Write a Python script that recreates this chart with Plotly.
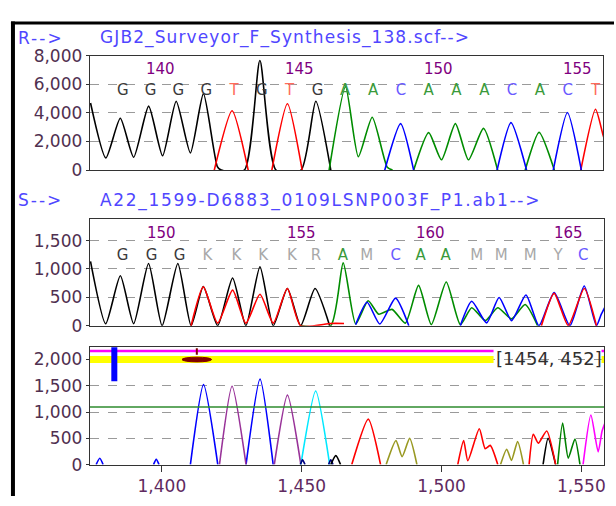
import plotly.graph_objects as go

# ---------------- DATA ----------------
# Panel 1: reference trace R  (x = base position, y = signal)
r_title_prefix = "R-->"
r_title = "GJB2_Surveyor_F_Synthesis_138.scf-->"
r_call_pos = [139, 140, 141, 142, 143, 144, 145, 146, 147, 148, 149, 150, 151, 152, 153, 154, 155, 156]
r_calls = list("GGGGTGTGAACAAACACT")
r_numbers = [140, 145, 150, 155]
r_black_x = [137.84, 138.39, 138.91, 139.39, 139.93, 140.43, 140.92, 141.43, 141.90, 142.40, 142.54, 143.37,
             143.93, 144.51, 145.41, 145.94, 146.48]
r_black_y = [4700, 850, 3630, 900, 4480, 1000, 4820, 1200, 5350, 250, 0, 0, 7670, 0, 0, 4820, 0]
r_red_x = [142.29, 142.93, 143.51, None, 144.36, 144.92, 145.45, None, 155.47, 156.0, 156.27, 156.5]
r_red_y = [0, 4150, 0, None, 0, 4640, 0, None, 0, 4260, 2460, 1000]
r_green_x = [146.42, 147.01, 147.47, 147.97, 148.51, 148.7, None, 149.46, 150.0, 150.46, 150.96, 151.43,
             151.97, 152.48, None, 153.47, 153.97, 154.52]
r_green_y = [0, 5830, 940, 3700, 200, 0, None, 0, 2620, 720, 3250, 720, 2920, 0, None, 0, 2640, 0]
r_blue_x = [148.42, 148.99, 149.46, None, 152.46, 152.96, 153.52, None, 154.48, 154.99, 155.49]
r_blue_y = [0, 3250, 0, None, 0, 3320, 0, None, 0, 4030, 0]

# Panel 2: sample trace S
s_title_prefix = "S-->"
s_title = "A22_1599-D6883_0109LSNP003F_P1.ab1-->"
s_call_pos = [148.93, 150.0, 151.03, 152.06, 153.13, 154.12, 155.18, 156.07, 157.06, 157.94, 159.01,
              159.93, 160.85, 161.99, 162.9, 163.97, 165.0, 165.92]
s_calls = list("GGGKKKKRAMCAAMMMYC")
s_numbers = [150, 155, 160, 165]
s_number_pos = [150.0, 155.18, 159.93, 165.0]
s_black_x = [147.75, 148.31, 148.85, 149.34, 149.89, 150.39, 150.97, 151.46, 151.91, 152.44, 152.99,
             153.48, 154.0, 154.49, 155.01, 155.5, 156.03, 156.57]
s_black_y = [1136, 35, 880, 35, 1097, 0, 1097, 0, 690, 0, 841, 0, 1040, 0, 656, 0, 655, 0]
s_red_x = [151.46, 151.91, 152.44, 152.99, 153.48, 154.0, 154.49, 155.01, 155.5, 156.61, 157.1, None,
           164.38, 164.85, 165.37, 165.96, 166.41]
s_red_y = [0, 685, 45, 627, 45, 554, 45, 656, 0, 40, 40, None, 0, 571, 0, 655, 0]
s_green_x = [155.5, 156.61, 157.07, 157.53, 157.99, 158.38, 158.87, 159.36, 159.85, 160.32, 160.87,
             161.39, 161.81, 162.31, 162.77, 163.28, 163.78, 164.24]
s_green_y = [0, 0, 1108, 30, 440, 203, 288, 45, 712, 20, 770, 20, 317, 90, 317, 120, 373, 0]
s_blue_x = [157.53, 157.95, 158.42, 159.0, 159.49, None, 161.39, 161.81, 162.36, 162.82, 163.28, 163.81,
            164.29, 164.85, 165.43, 165.96, 166.41, 166.59, 166.8]
s_blue_y = [20, 413, 30, 486, 0, None, 0, 430, 50, 498, 90, 542, 0, 583, 0, 701, 0, 203, 400]

# Panel 3: difference / mutation trace (x = scan point)
m_xticks = [1400, 1450, 1500, 1550]
m_yticks = [0, 500, 1000, 1500, 2000]
m_blue_x = [1376.5, 1377.8, 1379.0, None, 1397.0, 1398.0, 1399.0, None, 1410.2, 1414.9, 1420.0, None,
            1430.1, 1435.1, 1439.8]
m_blue_y = [0, 120, 0, None, 0, 100, 0, None, 0, 1523, 0, None, 0, 1627, 0]
m_purple_x = [1420.6, 1425.1, 1430.1, None, 1440.2, 1444.9, 1449.7]
m_purple_y = [0, 1492, 0, None, 0, 1322, 0]
m_cyan_x = [1449.7, 1455.0, 1460.0]
m_cyan_y = [0, 1400, 0]
m_navy_x = [1449.5, 1450.3, 1451.2, None, 1459.6, 1460.4, 1461.2]
m_navy_y = [0, 90, 0, None, 0, 90, 0]
m_black_x = [1460.4, 1462.2, 1463.9, None, 1536.3, 1538.1, 1540.8]
m_black_y = [0, 170, 0, None, 0, 499, 0]
m_red_x = [1467.9, 1473.8, 1478.2, None, 1505.8, 1507.9, 1509.4, 1513.5, 1515.6, 1517.4, 1520.1, None,
           1531.3, 1532.8, 1534.6, 1537.6, 1540.8]
m_red_y = [0, 865, 0, None, 0, 457, 73, 682, 303, 366, 0, None, 0, 578, 408, 640, 0]
m_olive_x = [1480.2, 1483.7, 1485.9, 1488.6, 1491.2, None, 1521.1, 1523.3, 1525.0, 1527.2, 1529.3]
m_olive_y = [0, 457, 152, 499, 0, None, 0, 293, 80, 439, 0]
m_green_x = [1541.5, 1543.3, 1545.3, 1547.7, 1549.5]
m_green_y = [0, 792, 122, 487, 0]
m_magenta_x = [1550.6, 1553.4, 1556.0, 1557.4, 1558.5]
m_magenta_y = [0, 944, 243, 640, 800]
m_threshold = 1097
m_pink_level = 2163
m_yellow_level = 2000
m_band_start, m_band_end = 1374.2, 1518.6
m_band_tail = [1557.2, 1558.1]
m_marker_pos = 1383.0
m_marker_low = 1585
m_cursor_pos = 1412.5
m_cursor_half = 5.3
m_cursor_label = "[1454, 452]"

# ---------------- STYLE ----------------
FONT = "DejaVu Sans"
W, H = 616, 506
call_colors = {"G": "#3a3a3a", "A": "#3a9a3a", "C": "#6a5aff", "T": "#ff6a5a"}
amb_color = "#a8a8a8"


def py(p):
    return 1 - p / H


fig = go.Figure()

LW = 1.6


def add_line(x, y, color, xa, ya, width=LW, shape="spline"):
    fig.add_trace(go.Scatter(x=x, y=y, mode="lines", xaxis=xa, yaxis=ya,
                             line=dict(color=color, width=width, shape=shape, smoothing=0.6),
                             hoverinfo="skip", showlegend=False, connectgaps=False))


# Panel 1
add_line(r_black_x, r_black_y, "#000000", "x", "y")
add_line(r_red_x, r_red_y, "#ff0000", "x", "y")
add_line(r_green_x, r_green_y, "#008c00", "x", "y")
add_line(r_blue_x, r_blue_y, "#0000ff", "x", "y")
fig.add_trace(go.Scatter(x=r_call_pos, y=[5500] * len(r_calls), mode="text", text=r_calls,
                         textfont=dict(family=FONT, size=15,
                                       color=[call_colors.get(c, amb_color) for c in r_calls]),
                         xaxis="x", yaxis="y", hoverinfo="skip", showlegend=False))

# Panel 2
add_line(s_black_x, s_black_y, "#000000", "x2", "y2")
add_line(s_green_x, s_green_y, "#008c00", "x2", "y2")
add_line(s_blue_x, s_blue_y, "#0000ff", "x2", "y2")
add_line(s_red_x, s_red_y, "#ff0000", "x2", "y2")
fig.add_trace(go.Scatter(x=s_call_pos, y=[1232] * len(s_calls), mode="text", text=s_calls,
                         textfont=dict(family=FONT, size=15,
                                       color=[call_colors.get(c, amb_color) for c in s_calls]),
                         xaxis="x2", yaxis="y2", hoverinfo="skip", showlegend=False))

# Panel 3
add_line(m_blue_x, m_blue_y, "#0000ff", "x3", "y3")
add_line(m_purple_x, m_purple_y, "#993399", "x3", "y3")
add_line(m_cyan_x, m_cyan_y, "#00e8ff", "x3", "y3")
add_line(m_navy_x, m_navy_y, "#000080", "x3", "y3")
add_line(m_black_x, m_black_y, "#000000", "x3", "y3")
add_line(m_red_x, m_red_y, "#ff0000", "x3", "y3")
add_line(m_olive_x, m_olive_y, "#999922", "x3", "y3")
add_line(m_green_x, m_green_y, "#008000", "x3", "y3")
add_line(m_magenta_x, m_magenta_y, "#ff00ff", "x3", "y3")
# threshold line
add_line([m_band_start, m_band_tail[1]], [m_threshold, m_threshold], "#2e8b2e", "x3", "y3", 1.5, "linear")
# yellow band and pink line
add_line([m_band_start, m_band_end, None] + m_band_tail,
         [m_yellow_level, m_yellow_level, None, m_yellow_level, m_yellow_level], "#ffff00", "x3", "y3", 7, "linear")
add_line([m_band_start, m_band_end, None] + m_band_tail,
         [m_pink_level, m_pink_level, None, m_pink_level, m_pink_level], "#ff00ff", "x3", "y3", 2.5, "linear")
# blue marker bar
add_line([m_marker_pos, m_marker_pos], [m_marker_low, 2300], "#0000ff", "x3", "y3", 6, "linear")
# dark red cursor
fig.add_shape(type="circle", xref="x3", yref="y3", x0=m_cursor_pos - m_cursor_half,
              x1=m_cursor_pos + m_cursor_half, y0=m_yellow_level - 45, y1=m_yellow_level + 45,
              fillcolor="#800000", line=dict(color="#800000", width=1))
add_line([m_cursor_pos, m_cursor_pos], [m_yellow_level + 90, 2215], "#800000", "x3", "y3", 2, "linear")

# ---------------- AXES ----------------
x_dom = [90 / W, 606 / W]
ytick_font = dict(family=FONT, size=17, color="#503050")
common_y = dict(showgrid=True, gridcolor="#9a9a9a", griddash="dash", gridwidth=1, showline=True,
                mirror=True, linecolor="#333333", linewidth=1, ticks="outside", ticklen=3,
                tickcolor="#333333", tickfont=ytick_font, tickformat=",", zeroline=False)
common_x = dict(showgrid=False, showline=True, mirror=True, linecolor="#333333", linewidth=1,
                zeroline=False)

fig.update_layout(
    width=W, height=H, margin=dict(l=0, r=0, t=0, b=0),
    paper_bgcolor="white", plot_bgcolor="white", showlegend=False,
    xaxis=dict(domain=[90 / W, 605 / W], range=[137.81, 156.27], anchor="y",
               showticklabels=False, ticks="", **common_x),
    yaxis=dict(domain=[py(166.7), py(47.7)], range=[0, 8000], anchor="x",
               tickvals=[0, 2000, 4000, 6000, 8000], **common_y),
    xaxis2=dict(domain=x_dom, range=[147.72, 166.69], anchor="y2",
                showticklabels=False, ticks="", **common_x),
    yaxis2=dict(domain=[py(328.7), py(217.7)], range=[0, 1880], anchor="x2",
                tickvals=[0, 500, 1000, 1500], **common_y),
    xaxis3=dict(domain=x_dom, range=[1374.2, 1558.1], anchor="y3", tickvals=m_xticks,
                tickformat=",", ticks="outside", ticklen=6, tickcolor="#333333",
                tickfont=dict(family=FONT, size=17, color="#602a60"), **common_x),
    yaxis3=dict(domain=[py(473.3), py(351)], range=[0, 2236], anchor="x3",
                tickvals=m_yticks, **common_y),
)

# ---------------- TEXT ----------------
ann = []
title_font = dict(family=FONT, size=17, color="#5046ff")
for prefix, title, ycen, sp in [(r_title_prefix, r_title, 29, 1.1), (s_title_prefix, s_title, 198, 1.7)]:
    ann.append(dict(text='<span style="letter-spacing:2px">' + prefix + '</span>', x=16 / W, y=py(ycen),
                    xref="paper", yref="paper",
                    xanchor="left", yanchor="middle", showarrow=False, font=title_font))
    ann.append(dict(text='<span style="letter-spacing:%.1fpx">' % sp + title + '</span>', x=98 / W, y=py(ycen),
                    xref="paper", yref="paper",
                    xanchor="left", yanchor="middle", showarrow=False, font=title_font))
num_font = dict(family=FONT, size=15, color="#800080")
for n in r_numbers:
    ann.append(dict(text=str(n), x=n, y=7050, xref="x", yref="y", xshift=10,
                    xanchor="center", yanchor="middle", showarrow=False, font=num_font))
for n, p in zip(s_numbers, s_number_pos):
    ann.append(dict(text=str(n), x=p, y=1640, xref="x2", yref="y2", xshift=10,
                    xanchor="center", yanchor="middle", showarrow=False, font=num_font))
ann.append(dict(text=m_cursor_label,
                x=606 / W, y=py(362.7), xref="paper", yref="paper",
                xanchor="right", yanchor="middle", showarrow=False,
                font=dict(family=FONT, size=18, color="#303030")))
fig.update_layout(annotations=ann)

# outer frame (top and left black edges)
fig.add_shape(type="rect", xref="paper", yref="paper", x0=11 / W, x1=1.0, y0=py(15), y1=py(12),
              fillcolor="black", line=dict(width=0), layer="above")
fig.add_shape(type="rect", xref="paper", yref="paper", x0=11 / W, x1=15 / W, y0=0, y1=py(12),
              fillcolor="black", line=dict(width=0), layer="above")

fig.write_html("out.html", config={"displayModeBar": False},
               post_script="document.body.style.margin='0';"
                           "document.documentElement.style.overflow='hidden';"
                           "document.body.style.overflow='hidden';")
